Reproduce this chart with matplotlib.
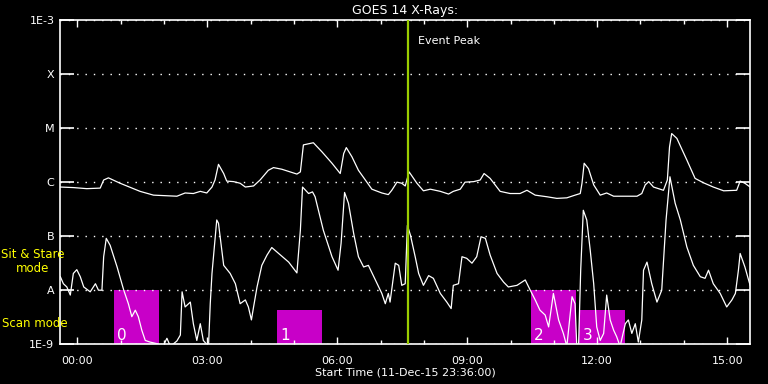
import numpy as np
import matplotlib
matplotlib.use("Agg")
import matplotlib.pyplot as plt
from matplotlib.patches import Rectangle

# hours after 00:00 on 12-Dec-15, log10 flux (W/m^2)
t_long = [-0.39, -0.09, 0.22, 0.53, 0.61, 0.72, 0.99, 1.45, 1.76, 2.30, 2.49, 2.68, 2.84, 2.99,
          3.11, 3.18, 3.26, 3.38, 3.45, 3.61, 3.76, 3.88, 4.07, 4.22, 4.41, 4.53, 4.72, 5.07,
          5.15, 5.22, 5.45, 5.65, 5.88, 6.07, 6.15, 6.21, 6.34, 6.49, 6.65, 6.80, 7.03, 7.18,
          7.26, 7.38, 7.49, 7.57, 7.66, 7.84, 7.99, 8.15, 8.38, 8.57, 8.68, 8.84, 8.95, 9.15,
          9.30, 9.39, 9.53, 9.76, 9.99, 10.22, 10.38, 10.57, 10.84, 11.07, 11.30, 11.49, 11.61,
          11.65, 11.70, 11.80, 11.92, 12.07, 12.22, 12.38, 12.61, 12.92, 13.03, 13.11, 13.19,
          13.30, 13.53, 13.62, 13.67, 13.72, 13.84, 14.07, 14.26, 14.45, 14.68, 14.92, 15.22,
          15.30, 15.41, 15.53]
log_long = [-6.10, -6.11, -6.13, -6.12, -5.97, -5.93, -6.03, -6.18, -6.25, -6.27, -6.21, -6.22,
            -6.18, -6.21, -6.10, -5.97, -5.68, -5.85, -5.99, -6.00, -6.03, -6.10, -6.08, -5.97,
            -5.79, -5.74, -5.77, -5.86, -5.82, -5.32, -5.28, -5.45, -5.66, -5.85, -5.48, -5.37,
            -5.54, -5.79, -5.97, -6.14, -6.21, -6.24, -6.16, -6.01, -6.03, -6.08, -5.82, -6.03,
            -6.17, -6.14, -6.18, -6.23, -6.18, -6.14, -6.01, -6.00, -5.97, -5.85, -5.94, -6.18,
            -6.22, -6.22, -6.16, -6.25, -6.28, -6.31, -6.30, -6.25, -6.22, -6.03, -5.66, -5.76,
            -6.06, -6.25, -6.21, -6.27, -6.27, -6.27, -6.22, -6.06, -6.00, -6.10, -6.16, -5.97,
            -5.36, -5.11, -5.20, -5.60, -5.94, -6.02, -6.10, -6.17, -6.16, -5.99, -6.03, -6.10]

t_short = [-0.39, -0.32, -0.24, -0.16, -0.09, -0.01, 0.07, 0.15, 0.30, 0.42, 0.49, 0.57, 0.61,
           0.67, 0.76, 0.92, 1.07, 1.18, 1.26, 1.34, 1.41, 1.49, 1.57, 1.68, 1.84, 1.98, 2.07,
           2.15, 2.30, 2.38, 2.42, 2.49, 2.61, 2.68, 2.76, 2.84, 2.91, 3.03, 3.07, 3.11, 3.22,
           3.26, 3.38, 3.53, 3.65, 3.76, 3.88, 3.95, 4.02, 4.07, 4.15, 4.26, 4.38, 4.49, 4.65,
           4.88, 5.07, 5.15, 5.20, 5.34, 5.43, 5.49, 5.68, 5.88, 6.02, 6.09, 6.17, 6.26, 6.38,
           6.49, 6.61, 6.72, 6.88, 7.03, 7.11, 7.18, 7.22, 7.34, 7.42, 7.49, 7.57, 7.62, 7.69,
           7.80, 7.88, 7.99, 8.11, 8.22, 8.38, 8.53, 8.63, 8.68, 8.80, 8.88, 8.99, 9.11, 9.22,
           9.32, 9.42, 9.53, 9.69, 9.84, 9.95, 10.15, 10.34, 10.45, 10.57, 10.68, 10.80, 10.88,
           10.99, 11.11, 11.22, 11.30, 11.42, 11.49, 11.53, 11.57, 11.62, 11.68, 11.76, 11.84,
           11.92, 11.99, 12.07, 12.15, 12.22, 12.30, 12.38, 12.45, 12.53, 12.65, 12.72, 12.80,
           12.88, 12.95, 13.03, 13.07, 13.15, 13.26, 13.38, 13.49, 13.59, 13.68, 13.80, 13.92,
           14.07, 14.22, 14.38, 14.49, 14.57, 14.68, 14.84, 14.99, 15.11, 15.19, 15.26, 15.30,
           15.41, 15.53]
log_short = [-7.76, -7.89, -7.95, -8.10, -7.70, -7.63, -7.76, -7.95, -8.04, -7.89, -8.01, -8.01,
             -7.39, -7.05, -7.18, -7.58, -8.00, -8.26, -8.50, -8.38, -8.50, -8.75, -8.94, -8.97,
             -9.00, -9.05, -8.90, -9.05, -8.95, -8.84, -8.04, -8.32, -8.23, -8.63, -8.94, -8.63,
             -8.94, -9.05, -8.26, -7.70, -6.71, -6.77, -7.55, -7.70, -7.89, -8.26, -8.19, -8.32,
             -8.56, -8.32, -7.95, -7.55, -7.36, -7.22, -7.33, -7.49, -7.69, -6.90, -6.10, -6.22,
             -6.19, -6.28, -6.90, -7.39, -7.64, -7.14, -6.20, -6.40, -6.96, -7.39, -7.58, -7.55,
             -7.82, -8.07, -8.26, -8.07, -8.23, -7.51, -7.55, -7.92, -7.89, -6.81, -6.99, -7.39,
             -7.70, -7.92, -7.74, -7.79, -8.07, -8.23, -8.35, -7.92, -7.89, -7.39, -7.42, -7.51,
             -7.39, -7.02, -7.05, -7.36, -7.70, -7.86, -7.95, -7.92, -7.82, -8.00, -8.19, -8.38,
             -8.47, -8.69, -8.07, -8.56, -8.81, -9.05, -8.13, -8.26, -9.05, -9.05, -7.64, -6.53,
             -6.71, -7.27, -7.89, -8.69, -8.94, -8.81, -8.10, -8.56, -8.75, -8.87, -9.05, -8.63,
             -8.56, -8.81, -8.63, -8.97, -8.56, -7.64, -7.49, -7.89, -8.23, -8.01, -6.71, -5.91,
             -6.40, -6.71, -7.21, -7.55, -7.76, -7.79, -7.64, -7.89, -8.07, -8.32, -8.19, -8.07,
             -7.64, -7.33, -7.58, -7.92]

# raster boxes: start, end (hours), top flux
box_start = [0.85, 4.62, 10.48, 11.59]
box_end = [1.89, 5.65, 11.52, 12.65]
box_top = [1e-8, 4.2e-9, 1e-8, 4.2e-9]

event_peak = 7.64
y_ticks = [1e-9, 1e-8, 1e-7, 1e-6, 1e-5, 1e-4, 1e-3]
y_labels = ["1E-9", "A", "B", "C", "M", "X", "1E-3"]
x_ticks = [0, 3, 6, 9, 12, 15]
x_labels = ["00:00", "03:00", "06:00", "09:00", "12:00", "15:00"]

fig = plt.figure(figsize=(7.68, 3.84), dpi=100, facecolor="black")
ax = fig.add_axes([0.078, 0.105, 0.8987, 0.844], facecolor="black")

for i in range(len(box_start)):
    ax.add_patch(Rectangle((box_start[i], 1e-9), box_end[i] - box_start[i], box_top[i] - 1e-9,
                           color="#c800c8", lw=0, zorder=1))
    ax.text(box_start[i] + 0.07, 1.15e-9, str(i), color="white", fontsize=11, zorder=3)

ax.plot(t_long, 10 ** np.array(log_long), color="white", lw=0.9, zorder=2)
ax.plot(t_short, 10 ** np.array(log_short), color="white", lw=0.9, zorder=2)
ax.axvline(event_peak, color="#9acd00", lw=1.6, zorder=4)
ax.text(event_peak + 0.23, 3.5e-4, "Event Peak", color="white", fontsize=8)

ax.set_yscale("log")
ax.set_ylim(1e-9, 1e-3)
ax.set_xlim(-0.4, 15.53)
ax.set_yticks(y_ticks)
ax.set_yticklabels(y_labels)
ax.yaxis.set_minor_locator(matplotlib.ticker.NullLocator())
ax.set_xticks(x_ticks)
ax.set_xticklabels(x_labels)
ax.set_xticks(np.arange(0, 16, 1), minor=True)

ax.tick_params(axis="y", which="major", direction="in", length=10, width=1.2, color="white",
               labelcolor="white", labelsize=8, left=True, right=True, pad=4)
ax.tick_params(axis="x", which="major", direction="in", length=5, width=1, color="white",
               labelcolor="white", labelsize=8, top=True, bottom=True, pad=9)
ax.tick_params(axis="x", which="minor", direction="in", length=3, width=1, color="white",
               top=True, bottom=True)
ax.grid(axis="y", color="white", linestyle=(0, (1, 5)), lw=1)
for s in ax.spines.values():
    s.set_color("white")
    s.set_linewidth(1.2)

ax.set_title("GOES 14 X-Rays:", color="white", fontsize=9, pad=4)
ax.set_xlabel("Start Time (11-Dec-15 23:36:00)", color="white", fontsize=8, labelpad=1)

fig.text(0.043, 0.318, "Sit & Stare\nmode", color="#ffff00", fontsize=8.5, ha="center",
         va="center", linespacing=1.1)
fig.text(0.003, 0.157, "Scan mode", color="#ffff00", fontsize=8.5, ha="left", va="center")

fig.savefig("out.png", dpi=100, facecolor="black")
